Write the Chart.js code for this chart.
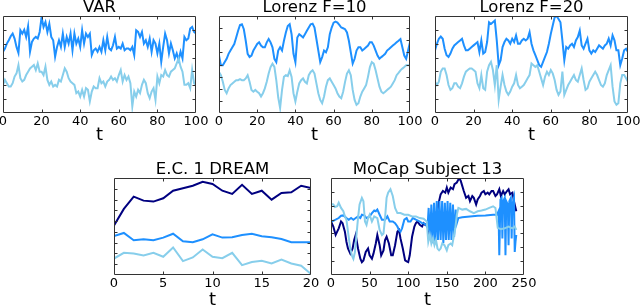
<!DOCTYPE html>
<html><head><meta charset="utf-8">
<script src="https://cdn.jsdelivr.net/npm/chart.js@4.4.0/dist/chart.umd.min.js"></script>
<style>
html,body{margin:0;padding:0;background:#fff;width:640px;height:306px;overflow:hidden;position:relative;}
.panel{position:absolute;}
.panel canvas{display:block;}
</style></head><body>
<div id="p0" class="panel"><canvas id="c0"></canvas></div>
<div id="p1" class="panel"><canvas id="c1"></canvas></div>
<div id="p2" class="panel"><canvas id="c2"></canvas></div>
<div id="p3" class="panel"><canvas id="c3"></canvas></div>
<div id="p4" class="panel"><canvas id="c4"></canvas></div>
<script>
// ---------- data ----------
const titles = ['VAR', 'Lorenz F=10', 'Lorenz F=20', 'E.C. 1 DREAM', 'MoCap Subject 13'];
const xLabel = 't';

const topXTicks = [0, 20, 40, 60, 80, 100];
const dreamXTicks = [0, 5, 10, 15, 20];
const mocapXTicks = [0, 50, 100, 150, 200, 250];

const varYTicks = [0, 1, 2, 3, 4, 5, 6, 7];
const lorenz10YTicks = [0, 1, 2, 3, 4, 5, 6, 7, 8];
const lorenz20YTicks = [0, 1, 2, 3, 4, 5, 6, 7];
const dreamYTicks = [0, 1, 2, 3, 4, 5, 6, 7, 8, 9];
const mocapYTicks = [0, 1, 2, 3, 4, 5, 6, 7];

const varDark = [4.42,4.65,5.01,5.25,5.54,5.73,5.37,4.77,4.34,5.97,
 5.73,6.01,5.49,6.25,4.42,5.13,5.37,5.49,5.37,5.85,
 6.92,6.21,6.56,5.85,6.44,5.49,5.25,4.06,4.77,5.25,
 4.77,5.73,4.77,5.49,5.01,5.73,4.53,5.73,5.01,5.37,
 4.77,5.97,5.01,5.73,5.49,5.73,4.18,4.53,4.65,4.42,
 4.77,4.42,5.25,4.53,5.49,4.65,4.53,4.89,5.49,4.65,
 4.77,4.65,5.01,4.53,4.65,4.65,4.53,4.77,4.18,5.97,
 5.85,5.49,5.85,5.01,5.25,4.77,5.37,4.42,5.25,5.01,
 4.30,5.01,3.70,4.77,5.73,5.25,4.30,5.01,4.53,3.94,
 4.30,3.82,4.42,3.94,5.49,5.25,5.37,6.09,6.21,5.85,
 5.73];
const varLight = [2.03,2.39,2.15,1.91,1.91,2.15,2.63,2.86,3.46,2.51,
 2.27,2.39,2.74,2.98,3.22,3.34,3.46,3.10,3.58,2.98,
 2.98,2.74,3.34,2.39,2.03,2.27,1.91,2.03,1.91,2.39,
 2.27,2.74,3.22,2.98,2.51,2.27,2.15,2.03,1.43,1.55,
 1.19,1.67,1.19,1.79,1.67,0.84,1.55,1.91,1.79,1.79,
 2.51,2.15,2.27,1.91,2.27,2.39,2.63,2.39,2.51,2.27,
 2.74,3.10,2.27,2.74,2.39,2.63,2.15,0.48,1.55,1.19,
 1.67,1.43,2.03,2.39,2.15,1.43,1.07,1.55,1.79,0.95,
 2.63,2.15,2.74,2.63,3.10,2.74,2.63,2.98,3.10,3.22,
 3.58,3.94,3.34,2.98,2.03,2.03,2.15,1.79,3.10,2.15,
 2.03];

const lorenz10Dark = [4.74,3.93,3.93,4.20,4.47,4.88,5.15,5.42,5.69,6.23,
 6.78,7.26,7.32,6.91,5.96,4.88,4.61,4.74,5.15,5.42,
 5.69,5.83,5.56,5.42,5.42,5.83,6.10,5.83,5.42,4.47,
 4.20,5.15,5.42,5.15,5.96,6.64,7.18,7.32,6.50,4.88,
 4.20,6.23,6.50,6.37,6.23,6.50,6.78,7.05,7.32,7.37,
 7.05,6.10,5.15,4.20,4.61,5.15,5.01,5.42,6.50,7.05,
 7.45,7.53,7.45,7.26,7.05,6.99,6.91,6.64,5.96,5.01,
 4.07,4.47,5.15,5.42,5.42,5.15,5.28,5.42,5.56,5.83,
 5.83,5.56,5.15,4.74,4.47,4.61,4.74,4.88,5.15,5.28,
 5.42,5.56,5.69,5.83,5.96,6.10,5.42,4.74,4.47,5.15,
 5.83];
const lorenz10Light = [3.39,3.12,2.57,1.90,1.63,2.03,2.30,2.44,2.57,2.71,
 2.71,2.79,2.71,2.71,2.85,3.12,2.57,1.90,1.76,1.90,
 1.76,1.63,1.36,1.63,2.03,2.57,3.25,3.79,4.07,3.80,
 2.70,1.30,0.41,1.90,2.98,3.12,3.05,3.52,2.98,1.63,
 0.95,1.76,2.44,2.71,2.85,2.57,2.44,3.12,3.39,3.52,
 3.25,2.44,1.63,1.08,0.81,1.36,2.17,2.71,2.85,2.57,
 2.30,2.03,1.63,1.36,1.22,1.76,2.57,3.25,3.52,3.12,
 1.90,1.08,0.68,0.81,1.36,1.76,2.03,2.30,2.98,3.79,
 4.20,4.07,3.52,2.85,2.17,1.76,1.63,1.76,1.90,2.03,
 2.17,2.44,2.71,3.12,3.31,3.52,3.66,3.79,3.93,3.93,
 3.93];

const lorenz20Dark = [4.52,5.00,5.36,5.52,5.36,4.64,4.17,4.05,4.29,4.64,
 4.88,5.00,5.12,5.24,5.36,4.88,4.52,4.52,4.64,4.76,
 4.88,5.00,5.12,4.40,5.24,4.29,4.40,5.12,6.55,6.43,
 6.55,6.67,5.24,3.45,3.81,4.76,5.12,5.36,5.24,5.00,
 5.36,5.12,5.60,5.00,5.00,5.24,5.36,5.24,5.36,5.83,
 5.00,4.52,4.17,3.81,3.45,3.33,3.69,4.05,4.40,5.00,
 5.71,6.31,6.90,7.00,6.79,6.55,5.24,3.81,4.76,4.64,
 4.88,5.00,4.76,5.24,5.48,5.95,4.88,4.64,5.00,5.36,
 4.52,4.29,4.52,4.40,4.64,4.88,4.76,4.64,4.88,5.00,
 5.36,4.88,5.60,5.24,4.52,4.52,3.45,3.93,4.52,4.64,
 4.40];
const lorenz20Light = [2.26,2.02,2.26,2.98,3.21,3.21,2.74,2.02,1.67,1.79,
 2.14,2.14,1.90,1.79,2.14,2.62,2.98,3.10,3.21,3.21,
 3.10,2.98,2.14,1.79,2.74,1.79,1.67,2.98,3.45,3.69,
 3.10,2.02,3.45,0.95,1.90,2.74,2.02,1.55,1.31,1.55,
 1.90,2.14,2.74,2.02,1.79,1.90,2.02,2.26,2.50,2.74,
 3.57,3.45,3.33,3.45,2.98,2.50,2.02,2.62,2.98,2.74,
 3.10,2.86,2.38,1.67,1.31,1.55,2.98,1.31,1.67,2.02,
 2.26,2.50,2.74,2.38,2.26,2.74,3.21,2.38,1.67,1.79,
 2.26,2.50,2.74,2.98,2.74,2.38,2.02,1.90,2.14,2.74,
 3.10,3.45,1.90,0.83,0.60,0.71,2.14,2.74,2.74,2.50,
 2.26];

const dreamNavy = [4.60,6.13,7.27,6.90,6.81,7.12,7.82,8.04,8.28,8.65,8.44,7.82,7.52,8.37,7.52,7.82,6.99,7.61,7.67,8.28,8.07];
const dreamBlue = [3.62,3.90,3.22,3.31,3.22,3.47,3.83,3.13,3.04,3.31,3.77,3.47,3.50,3.71,3.83,3.59,3.50,3.34,3.04,3.04,3.04];
const dreamLight = [1.53,2.06,1.99,1.81,2.06,1.69,2.55,1.29,1.63,2.36,1.69,1.56,2.06,0.92,1.20,1.32,1.07,1.44,1.07,0.86,0.09];

const mocapNavyT = [0,3,6,8,10,13,15,18,20,22,25,28,30,32,35,38,40,42,45,48,50,53,55,58,60,63,65,68,70,72,75,78,80,83,86,88,90,93,96,98,100,102,105,108,110,112,115,118,120,122,125,127,130,133,136,138,140,142,145,148,150,152,155,158,160,163,166,168,170,172,175,178,180,183,185,188,190,193,195,198,200,203,205,208,210,213,215,218,220,223,225,228,230,232,235,237,240];
const mocapNavy = [3.86,3.50,2.89,3.13,3.37,3.86,3.74,3.13,2.40,1.91,1.54,1.91,2.52,2.89,1.91,1.17,0.93,1.05,1.66,1.91,1.42,1.17,1.54,2.27,2.89,2.15,1.42,1.78,2.52,2.76,2.27,1.42,1.42,2.15,3.13,3.25,2.64,1.91,1.05,0.98,0.93,1.42,2.76,3.50,3.74,3.86,3.62,3.50,3.74,3.62,3.74,3.13,3.62,3.99,4.47,4.72,5.33,5.82,6.06,5.94,6.31,5.94,6.31,6.19,6.55,6.67,6.99,6.80,6.43,6.06,5.57,5.70,5.33,5.70,5.57,5.09,5.45,5.70,5.94,6.06,5.82,5.94,5.82,6.06,6.06,5.70,5.82,6.19,5.70,6.06,5.82,6.06,6.19,5.82,5.94,5.33,4.60];
const mocapBlueT = [0,3,6,10,13,16,20,23,26,29,32,35,38,40,43,46,50,53,56,58,60,63,66,70,73,76,80,83,86,88,90,92,95,98,100,103,106,110,115,118,120,123,125,126.5,128,130,131.5,133.5,135,137,138.5,140.5,142,144,145.5,147.5,149,151,152.5,154.5,156,158,159.5,161.5,163,165,170,180,190,200,210,215,217,218,219.5,221,222,223,225,226,227,229,230,231,233,234,235,237,238,239,240];
const mocapBlue = [3.86,3.91,3.99,4.11,4.28,4.30,4.11,3.99,4.11,3.99,4.11,4.23,4.11,4.35,4.30,4.11,4.23,4.47,4.65,4.60,4.72,4.35,3.99,3.99,4.23,3.86,3.86,3.74,3.50,3.25,3.13,3.37,3.99,4.11,3.86,3.86,4.11,3.99,3.86,3.74,3.74,3.62,3.42,4.84,2.52,5.09,2.30,5.21,2.30,5.33,2.52,5.33,2.52,5.33,2.30,5.21,2.52,5.33,2.52,5.21,2.52,5.09,2.76,4.72,3.74,4.11,4.16,4.23,4.28,4.30,4.35,4.35,4.60,1.42,5.45,5.57,2.64,5.33,5.57,1.42,5.33,5.09,2.15,5.33,5.57,2.64,5.09,5.57,1.66,2.40,2.89];
const mocapLightT = [0,3,5,8,10,13,16,18,20,22,25,27,29,31,33,35,37,40,42,44,46,48,50,53,56,60,63,66,68,70,72,74,77,80,83,86,90,95,100,105,110,115,120,124,126,128,130,132,134,136,138,140,142,144,147,150,152,155,157,159,161,163,165,170,175,180,185,190,195,200,205,210,213,216,220,225,230,235,238,240];
const mocapLight = [5.13,5.09,4.91,4.96,5.21,4.84,4.60,4.23,3.99,3.13,1.91,1.42,1.17,1.66,2.89,4.11,5.09,5.57,5.33,3.86,3.62,4.11,4.35,3.86,4.23,4.11,3.25,2.89,3.00,4.11,5.57,5.94,6.19,5.70,4.84,4.47,4.47,4.35,4.35,4.23,4.23,4.11,4.06,3.86,2.40,2.89,2.27,2.64,2.15,2.52,1.91,1.78,1.91,2.27,2.15,1.78,2.15,2.27,2.15,2.76,3.37,4.35,4.84,4.72,4.77,4.60,4.47,4.60,4.65,4.72,4.84,4.96,4.84,3.40,3.30,3.37,3.50,3.37,3.50,3.25];

// ---------- styling / layout ----------
const NAVY = '#000080', BLUE = '#1E90FF', LIGHT = '#87CEEB';
Chart.defaults.font.family = "'DejaVu Sans', sans-serif";
Chart.defaults.color = '#000';

const panels = [
  {box:'p0', cv:'c0', title:titles[0], L:3, R:196, T:16, B:113, S:32, xMax:100, yMax:7, xTicks:topXTicks, yTicks:varYTicks,
   series:[{v:varLight, c:LIGHT}, {v:varDark, c:BLUE}]},
  {box:'p1', cv:'c1', title:titles[1], L:219, R:410, T:16, B:113, S:32, xMax:100, yMax:8, xTicks:topXTicks, yTicks:lorenz10YTicks,
   series:[{v:lorenz10Light, c:LIGHT}, {v:lorenz10Dark, c:BLUE}]},
  {box:'p2', cv:'c2', title:titles[2], L:435, R:628, T:16, B:113, S:32, xMax:100, yMax:7, xTicks:topXTicks, yTicks:lorenz20YTicks,
   series:[{v:lorenz20Light, c:LIGHT}, {v:lorenz20Dark, c:BLUE}]},
  {box:'p3', cv:'c3', title:titles[3], L:114, R:311, T:178, B:275, S:35, xMax:20, yMax:9, xTicks:dreamXTicks, yTicks:dreamYTicks,
   series:[{v:dreamLight, c:LIGHT}, {v:dreamBlue, c:BLUE}, {v:dreamNavy, c:NAVY}]},
  {box:'p4', cv:'c4', title:titles[4], L:331, R:524, T:178, B:275, S:35, xMax:250, yMax:7, xTicks:mocapXTicks, yTicks:mocapYTicks,
   series:[{t:mocapLightT, v:mocapLight, c:LIGHT}, {t:mocapBlueT, v:mocapBlue, c:BLUE}, {t:mocapNavyT, v:mocapNavy, c:NAVY}]}
];

const framePlugin = {
  id: 'frame',
  afterDatasetsDraw(chart) {
    const {ctx, chartArea: a, scales: {x, y}} = chart;
    const l = Math.round(a.left) + 0.5, r = Math.round(a.right) - 0.5;
    const t = Math.round(a.top) + 0.5, b = Math.round(a.bottom) - 0.5;
    ctx.save();
    ctx.strokeStyle = '#333';
    ctx.lineWidth = 1;
    ctx.beginPath();
    ctx.rect(l, t, r - l, b - t);
    ctx.stroke();
    const len = 3;
    ctx.beginPath();
    x.ticks.forEach(tk => {
      const px = Math.round(x.getPixelForValue(tk.value)) + 0.5;
      if (px <= l + 1 || px >= r - 1) return;
      ctx.moveTo(px, b); ctx.lineTo(px, b - len);
      ctx.moveTo(px, t); ctx.lineTo(px, t + len);
    });
    y.ticks.forEach(tk => {
      const py = Math.round(y.getPixelForValue(tk.value)) + 0.5;
      if (py <= t + 1 || py >= b - 1) return;
      ctx.moveTo(l, py); ctx.lineTo(l + len, py);
      ctx.moveTo(r, py); ctx.lineTo(r - len, py);
    });
    ctx.stroke();
    ctx.restore();
  }
};

const PADX = 25, TITLEH = 20;
panels.forEach(p => {
  const div = document.getElementById(p.box);
  div.style.left = (p.L - PADX) + 'px';
  div.style.top = (p.T - TITLEH) + 'px';
  div.style.width = (p.R - p.L + 2 * PADX) + 'px';
  div.style.height = (p.B - p.T + TITLEH + p.S) + 'px';
  new Chart(document.getElementById(p.cv), {
    type: 'line',
    data: {
      datasets: p.series.map(s => ({
        data: s.v.map((val, i) => ({x: s.t ? s.t[i] : i, y: val})),
        borderColor: s.c,
        borderWidth: 2,
        pointRadius: 0,
        tension: 0,
        fill: false
      }))
    },
    options: {
      responsive: true,
      maintainAspectRatio: false,
      animation: false,
      devicePixelRatio: 1,
      layout: {padding: {left: PADX, right: PADX, top: 0, bottom: 0}},
      plugins: {
        legend: {display: false},
        tooltip: {enabled: false},
        title: {display: true, text: p.title, color: '#000',
          font: {size: 16.5, weight: 'normal', lineHeight: 1},
          padding: {top: 3, bottom: 0.5}}
      },
      scales: {
        x: {
          type: 'linear', min: 0, max: p.xMax,
          afterBuildTicks: sc => { sc.ticks = p.xTicks.map(v => ({value: v})); },
          afterFit: sc => { sc.height = p.S; },
          ticks: {font: {size: 13, lineHeight: 1.2}, color: '#000', padding: 1, maxRotation: 0, autoSkip: false},
          grid: {display: false, drawTicks: false},
          border: {display: false},
          title: {display: true, text: xLabel, color: '#000', font: {size: 18, lineHeight: 1}, padding: {top: 0, bottom: 1}}
        },
        y: {
          display: false, min: 0, max: p.yMax,
          ticks: {autoSkip: false, display: false},
          afterBuildTicks: sc => { sc.ticks = p.yTicks.map(v => ({value: v})); }
        }
      }
    },
    plugins: [framePlugin]
  });
});
</script>
</body></html>
